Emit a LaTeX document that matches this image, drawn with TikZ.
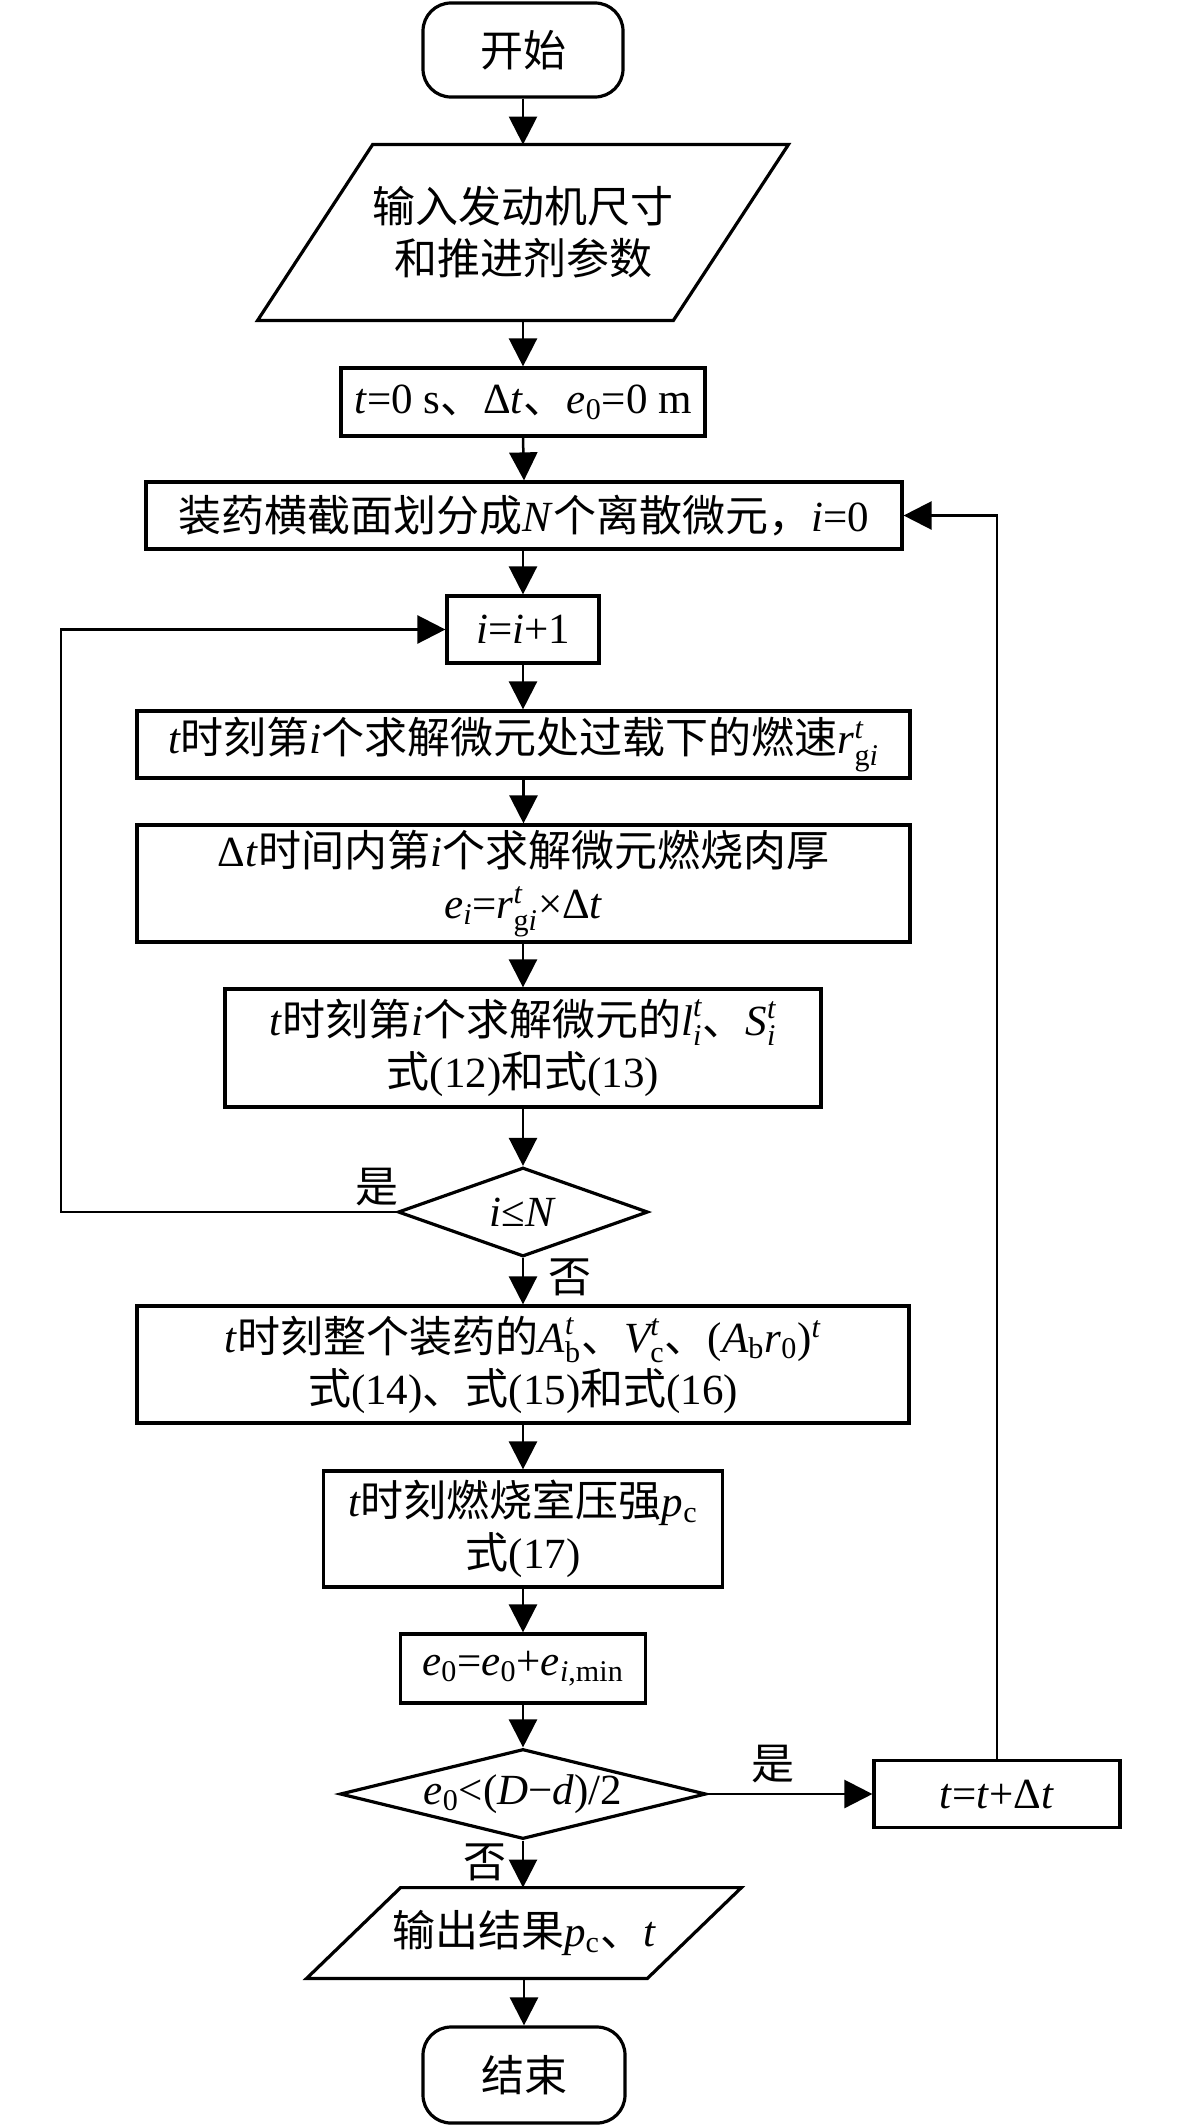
\documentclass[tikz,border=0pt]{standalone}
\usepackage{fontspec}
\usepackage{amsmath}
\setmainfont{Liberation Serif}
\newfontfamily\zhfont{Noto Sans CJK SC}
\newcommand\zh[1]{{\zhfont #1}}
\newcommand\vi[1]{\textit{#1}}
\newcommand\ssc[3]{\ensuremath{\text{#1}^{\text{#2}}_{\text{#3}}}}
\newcommand\sbs[1]{\ensuremath{_{\text{#1}}}}
\newcommand\sps[1]{\ensuremath{^{\text{#1}}}}
\newcommand\fs{\fontsize{21.5}{26}\selectfont}
\usetikzlibrary{arrows.meta,shapes.geometric,calc}
\begin{document}
\begin{tikzpicture}[x=0.5pt,y=-0.5pt,
  box/.style={draw, line width=1.6pt, inner sep=0pt, align=center, font=\fs},
  term/.style={box, rounded corners=14pt},
  plain/.style={inner sep=0pt, align=center, font=\fs},
  border/.style={line width=1.6pt, line join=miter},
  dia/.style={draw, line width=1.6pt, diamond, inner sep=0pt, font=\fs},
  lab/.style={inner sep=0pt, font=\fs},
  arr/.style={line width=1.25pt, -{Triangle[length=14pt,width=14pt]}},
  ln/.style={line width=1.25pt}]
\fill[white] (0,0) rectangle (1181,2125);
\useasboundingbox (0,0) rectangle (1181,2125);

% nodes
\node[term, minimum width=100pt, minimum height=47pt] (start) at (523,50) {\zh{开始}};
\node[plain, minimum width=265pt, minimum height=87.5pt] (inp) at (523,232.5)
  {\zh{输入发动机尺寸}\\\zh{和推进剂参数}};
\draw[border] (inp.south west) -- ($(inp.north west)+(115,0)$) -- (inp.north east)
  -- ($(inp.south east)-(115,0)$) -- cycle;
\node[box, minimum width=182pt, minimum height=34pt] (init) at (523,402)
  {\vi{t}=0 s\zh{、}Δ\vi{t}\zh{、}\vi{e}\sbs{0}=0 m};
\node[box, minimum width=378pt, minimum height=33.5pt] (div) at (524,515.5)
  {\zh{装药横截面划分成}\vi{N}\zh{个离散微元，}\vi{i}=0};
\node[box, minimum width=76pt, minimum height=33.5pt] (inc) at (523,629.5)
  {\vi{i}=\vi{i}+1};
\node[box, minimum width=386.5pt, minimum height=33.5pt] (rate) at (523.5,744.5)
  {\vi{t}\zh{时刻第}\vi{i}\zh{个求解微元处过载下的燃速}\ssc{\itshape r}{\itshape t}{g\itshape i}};
\node[box, minimum width=386.5pt, minimum height=58.5pt] (thick) at (523.5,883.5)
  {Δ\vi{t}\zh{时间内第}\vi{i}\zh{个求解微元燃烧肉厚}\\
   \vi{e}\sbs{\itshape i}=\ssc{\itshape r}{\itshape t}{g\itshape i}×Δ\vi{t}};
\node[box, minimum width=298pt, minimum height=59pt] (ls) at (523,1048)
  {\vi{t}\zh{时刻第}\vi{i}\zh{个求解微元的}\ssc{\itshape l}{\itshape t}{\itshape i}\zh{、}\ssc{\itshape S}{\itshape t}{\itshape i}\\
   \zh{式}(12)\zh{和式}(13)};
\node[dia, minimum width=125pt, minimum height=44.5pt] (d1) at (523,1212)
  {\makebox[0pt]{\vi{i}≤\vi{N}}};
\node[box, minimum width=386pt, minimum height=58.5pt] (ab) at (523,1364.5)
  {\vi{t}\zh{时刻整个装药的}\ssc{\itshape A}{\itshape t}{b}\zh{、}\ssc{\itshape V}{\itshape t}{c}\zh{、}(\vi{A}\sbs{b}\vi{r}\sbs{0})\sps{\itshape t}\\
   \zh{式}(14)\zh{、式}(15)\zh{和式}(16)};
\node[box, minimum width=199.5pt, minimum height=58pt] (pc) at (523,1529)
  {\vi{t}\zh{时刻燃烧室压强}\vi{p}\sbs{c}\\ \zh{式}(17)};
\node[box, minimum width=122.5pt, minimum height=34.5pt] (e0) at (523,1668.5)
  {\vi{e}\sbs{0}=\vi{e}\sbs{0}+\vi{e}\sbs{\itshape i\upshape ,min}};
\node[dia, minimum width=183pt, minimum height=45pt] (d2) at (523,1794)
  {\makebox[0pt]{\vi{e}\sbs{0}<(\vi{D}−\vi{d})/2}};
\node[box, minimum width=123pt, minimum height=33.5pt] (tb) at (997,1794)
  {\vi{t}=\vi{t}+Δ\vi{t}};
\node[plain, minimum width=217pt, minimum height=45pt] (out) at (524,1933)
  {\zh{输出结果}\vi{p}\sbs{c}\zh{、}\vi{t}};
\draw[border] (out.south west) -- ($(out.north west)+(94,0)$) -- (out.north east)
  -- ($(out.south east)-(94,0)$) -- cycle;
\node[term, minimum width=101pt, minimum height=48pt] (end) at (524,2075) {\zh{结束}};

% labels
\node[lab] (yes1) at (377,1187) {\zh{是}};
\node[lab] (no1) at (570,1277) {\zh{否}};
\node[lab] (yes2) at (773,1764) {\zh{是}};
\node[lab] (no2) at (485,1862) {\zh{否}};

% connectors
\coordinate (lx) at (61,0);
\draw[arr] (start.south) -- (inp.north);
\draw[arr] (inp.south) -- (init.north);
\draw[arr] (init.south) -- (div.north);
\draw[arr] (div.south -| inc.north) -- (inc.north);
\draw[arr] (inc.south) -- (inc.south |- rate.north);
\draw[arr] (rate.south -| thick.north) -- (thick.north);
\draw[arr] (thick.south -| ls.north) -- (ls.north);
\draw[arr] (ls.south) -- (d1.north);
\draw[arr] (d1.south) -- (ab.north);
\draw[arr] (ab.south) -- (pc.north);
\draw[arr] (pc.south) -- (e0.north);
\draw[arr] (e0.south) -- (d2.north);
\draw[arr] (d2.south) -- (d2.south |- out.north);
\draw[arr] (out.south -| end.north) -- (end.north);
\draw[arr] (d1.west) -- (d1.west -| lx) -- (inc.west -| lx) -- (inc.west);
\draw[arr] (d2.east) -- (d2.east -| tb.west);
\draw[arr] (tb.north) -- (tb.north |- div.east) -- (div.east);
\end{tikzpicture}
\end{document}
